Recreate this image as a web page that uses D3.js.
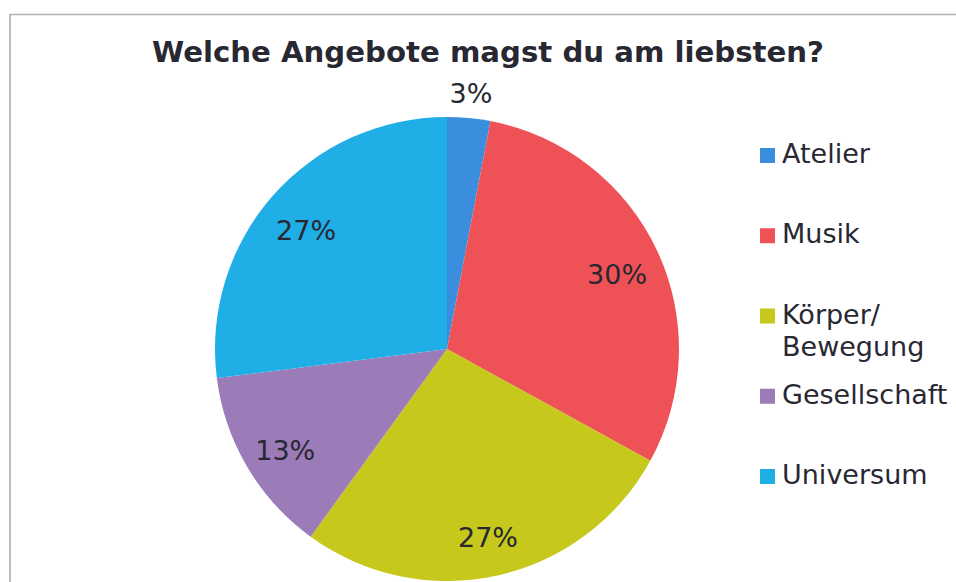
<!DOCTYPE html>
<html>
<head>
<meta charset="utf-8">
<script src="https://cdn.jsdelivr.net/npm/d3@7"></script>
<style>
  body { margin: 0; background: #fff; }
  text { font-family: "DejaVu Sans", Verdana, sans-serif; fill: #282832; }
</style>
</head>
<body>
<div id="chart"></div>
<script>
// survey data
const categories = ["Atelier", "Musik", "Körper/Bewegung", "Gesellschaft", "Universum"];
const legendLines = [["Atelier"], ["Musik"], ["Körper/", "Bewegung"], ["Gesellschaft"], ["Universum"]];
const values = [3, 30, 27, 13, 27];
const colors = ["#3a8edd", "#ee5257", "#c6c81c", "#9c7bb9", "#20aee6"];

const width = 956, height = 582;
const cx = 447, cy = 349, radius = 232;

const svg = d3.select("#chart").append("svg")
  .attr("width", width)
  .attr("height", height);

// frame lines (only top and left show in the scan)
svg.append("line").attr("x1", 10).attr("x2", width).attr("y1", 14.5).attr("y2", 14.5)
  .attr("stroke", "#b4b4b4").attr("stroke-width", 1.5);
svg.append("line").attr("x1", 10).attr("x2", 10).attr("y1", 14).attr("y2", height)
  .attr("stroke", "#a8a8a8").attr("stroke-width", 1.5);

svg.append("text")
  .attr("x", 488).attr("y", 62)
  .attr("text-anchor", "middle")
  .attr("font-size", 29.2).attr("font-weight", "bold")
  .text("Welche Angebote magst du am liebsten?");

const color = d3.scaleOrdinal().domain(categories).range(colors);

const pie = d3.pie().sort(null).value(d => d.value);
const data = categories.map((c, i) => ({name: c, value: values[i]}));
const arcs = pie(data);

const arc = d3.arc().innerRadius(0).outerRadius(radius);
const labelArc = d3.arc().innerRadius(radius * 0.81).outerRadius(radius * 0.81);
const outerArc = d3.arc().innerRadius(radius * 1.1).outerRadius(radius * 1.1);

const g = svg.append("g").attr("transform", `translate(${cx},${cy})`);

g.selectAll("path")
  .data(arcs)
  .join("path")
  .attr("d", arc)
  .attr("fill", d => color(d.data.name));

// labels: small slices go outside like Excel does
g.selectAll("text.pct")
  .data(arcs)
  .join("text")
  .attr("class", "pct")
  .attr("transform", d => {
    const p = d.data.value < 5 ? outerArc.centroid(d) : labelArc.centroid(d);
    return `translate(${p[0]},${p[1]})`;
  })
  .attr("text-anchor", "middle")
  .attr("dy", d => d.data.value < 5 ? "0.3em" : "0.55em")
  .attr("font-size", 27)
  .text(d => d.data.value + "%");

// legend
const legend = svg.append("g").attr("transform", "translate(760,0)");
const ly = d3.scalePoint().domain(categories).range([163, 484]);

const item = legend.selectAll("g")
  .data(categories)
  .join("g")
  .attr("transform", d => `translate(0,${ly(d)})`);

item.append("rect")
  .attr("x", 0).attr("y", -15)
  .attr("width", 15).attr("height", 15)
  .attr("fill", d => color(d));

item.append("text")
  .attr("x", 22).attr("y", 0)
  .attr("font-size", 27)
  .selectAll("tspan")
  .data((d, i) => legendLines[i])
  .join("tspan")
  .attr("x", 22)
  .attr("dy", (d, i) => i === 0 ? 0 : 32)
  .text(d => d);
</script>
</body>
</html>
